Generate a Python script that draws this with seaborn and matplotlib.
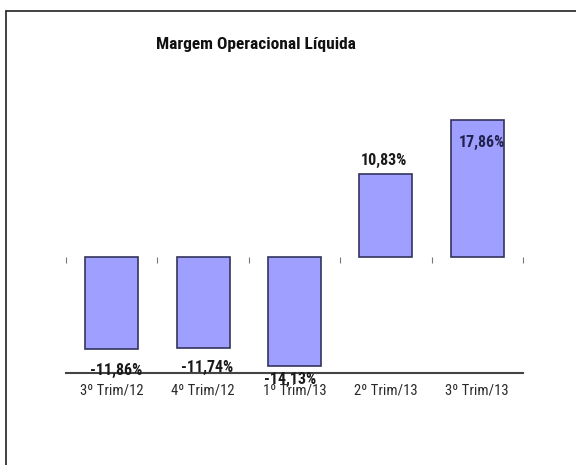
import matplotlib
matplotlib.use("Agg")
import matplotlib.pyplot as plt
from matplotlib.lines import Line2D
from matplotlib import font_manager as fm
import seaborn as sns
import pandas as pd

# ---- data ----
categories = ["3º Trim/12", "4º Trim/12", "1º Trim/13", "2º Trim/13", "3º Trim/13"]
values = [-11.86, -11.74, -14.13, 10.83, 17.86]
value_labels = ["-11,86%", "-11,74%", "-14,13%", "10,83%", "17,86%"]
title = "Margem Operacional Líquida"

# label placement (pixel offsets from bar end) - style only
label_dx = [4.5, 4.5, -4.5, -1.5, 4.5]
label_dy = [-22, -20, -13, 13, -23]
label_colors = ["#1a1a1a", "#1a1a1a", "#1a1a1a", "#1a1a1a", "#22224f"]

sns.set_theme(style="white")

# pick a narrow sans-serif if one is available
names = {f.name for f in fm.fontManager.ttflist}
narrow = None
stretch = "normal"
for c in ["Liberation Sans Narrow", "Arial Narrow", "Roboto Condensed",
          "DejaVu Sans Condensed", "Open Sans Condensed"]:
    if c in names:
        narrow = c
        break
if narrow is None:
    for f in fm.fontManager.ttflist:
        st = str(f.stretch).lower()
        if "condensed" in st or "narrow" in f.fname.lower() or "condensed" in f.fname.lower():
            narrow = f.name
            stretch = f.stretch
            break

if narrow is not None:
    plt.rcParams["font.family"] = [narrow, "Liberation Sans", "DejaVu Sans"]
    plt.rcParams["font.stretch"] = stretch
    fs_lab, fs_val, fs_title = 10.6, 11.5, 12.5
else:
    plt.rcParams["font.family"] = ["Liberation Sans", "DejaVu Sans"]
    fs_lab, fs_val, fs_title = 10.0, 10.3, 10.6

fig = plt.figure(figsize=(5.76, 4.65), dpi=100)
ax = fig.add_axes([66 / 576, 1 - 373 / 465, (523 - 66) / 576, (373 - 103) / 465])

df = pd.DataFrame({"cat": categories, "val": values})
sns.barplot(data=df, x="cat", y="val", color="#9f9fff", saturation=1,
            edgecolor="#33335e", linewidth=1.2, width=0.58, ax=ax)

ax.set_ylim(-15, 20)
ax.set_xlim(-0.5, len(categories) - 0.5)
ax.set_xlabel("")
ax.set_ylabel("")
ax.set_yticks([])
for s in ["top", "left", "right"]:
    ax.spines[s].set_visible(False)
ax.spines["bottom"].set_color("#444444")
ax.spines["bottom"].set_linewidth(1.5)
ax.tick_params(axis="x", length=0, pad=7.5, labelsize=fs_lab, colors="#2a2a2a")

# tick marks on the zero line at category boundaries
sec = ax.secondary_xaxis(15 / 35)
sec.set_xticks([i - 0.5 for i in range(len(categories) + 1)])
sec.set_xticklabels([])
sec.spines["bottom"].set_visible(False)
sec.tick_params(axis="x", direction="out", length=4, width=0.8, color="#777777")

for i, (v, lab) in enumerate(zip(values, value_labels)):
    ax.annotate(lab, xy=(i, v), xytext=(label_dx[i], label_dy[i]),
                textcoords="offset pixels", ha="center", va="center",
                fontsize=fs_val, fontweight="bold", color=label_colors[i],
                annotation_clip=False)

fig.text(255.5 / 576, 1 - 45 / 465, title, ha="center", va="center",
         fontsize=fs_title, fontweight="bold", color="#111111")

# outer frame (top and left edges visible)
fig.add_artist(Line2D([6 / 576, 1.0], [1 - 11.5 / 465, 1 - 11.5 / 465],
                      transform=fig.transFigure, color="#333333", linewidth=1.3))
fig.add_artist(Line2D([6 / 576, 6 / 576], [0, 1 - 11.5 / 465],
                      transform=fig.transFigure, color="#333333", linewidth=1.3))

fig.savefig("out.png", dpi=100)
